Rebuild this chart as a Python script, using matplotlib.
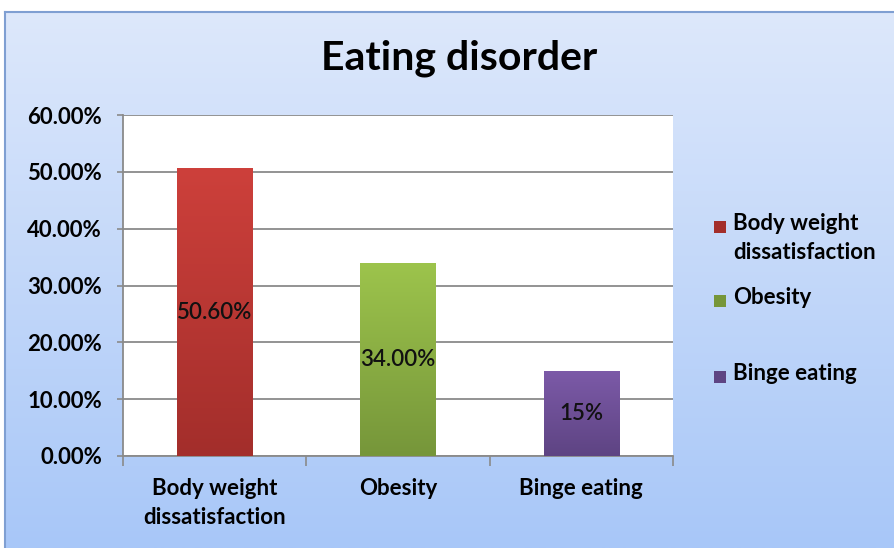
import numpy as np
import matplotlib
matplotlib.use("Agg")
import matplotlib.pyplot as plt
from matplotlib.patches import Rectangle
from matplotlib.colors import LinearSegmentedColormap

plt.rcParams['font.family'] = ['Lato', 'DejaVu Sans']

categories = ["Body weight\ndissatisfaction", "Obesity", "Binge eating"]
legend_labels = ["Body weight\ndissatisfaction", "Obesity", "Binge eating"]
values = [50.6, 34.0, 15.0]
value_labels = ["50.60%", "34.00%", "15%"]
yticks = [0, 10, 20, 30, 40, 50, 60]
ytick_labels = ["0.00%", "10.00%", "20.00%", "30.00%", "40.00%", "50.00%", "60.00%"]

# (top colour, bottom colour) for each bar
bar_colors = [("#cd403b", "#a32e2b"), ("#9dc44c", "#76963a"), ("#7c5aa8", "#5e4483")]

W, H = 894, 548
fig = plt.figure(figsize=(W / 100, H / 100), dpi=100, facecolor="white")

# chart background panel with vertical gradient
bg = fig.add_axes([5 / W, 0, (W - 5) / W, (H - 12) / H])
bg_cmap = LinearSegmentedColormap.from_list("bg", ["#dde8fb", "#a8c7f8"])
bg.imshow(np.linspace(0, 1, 256).reshape(-1, 1), aspect="auto", cmap=bg_cmap,
          extent=[0, 1, 0, 1], origin="upper")
bg.set_xlim(0, 1)
bg.set_ylim(0, 1)
bg.set_xticks([])
bg.set_yticks([])
for side, sp in bg.spines.items():
    sp.set_color("#7f9fd2")
    sp.set_linewidth(1.5)
    if side in ("right", "bottom"):
        sp.set_visible(False)

fig.text(459 / W, 1 - 58 / H, "Eating disorder", ha="center", va="center",
         fontsize=29.5, fontweight="bold", color="black")

ax = fig.add_axes([123 / W, (H - 456) / H, 550 / W, 341 / H])
ax.set_facecolor("white")
x = np.arange(len(categories))
bars = ax.bar(x, values, width=0.41, color=[c[0] for c in bar_colors], zorder=3)

# gradient fill inside each bar
for b, (ctop, cbot) in zip(bars, bar_colors):
    cm = LinearSegmentedColormap.from_list("b", [ctop, cbot])
    x0, y0 = b.get_x(), b.get_y()
    im = ax.imshow(np.linspace(0, 1, 256).reshape(-1, 1), aspect="auto", cmap=cm,
                   extent=[x0, x0 + b.get_width(), y0, y0 + b.get_height()],
                   origin="upper", zorder=3.5)
    im.set_clip_path(b)

ax.set_xlim(-0.5, len(categories) - 0.5)
ax.set_ylim(0, 60)

for xi, v, lab in zip(x, values, value_labels):
    ax.text(xi, v / 2, lab, ha="center", va="center", fontsize=16,
            fontweight="semibold", color="#111111", zorder=5)

ax.set_yticks(yticks)
ax.set_yticklabels(ytick_labels, fontsize=16, fontweight="bold")
ax.yaxis.grid(True, color="#8a8a8a", linewidth=1.3, zorder=0)
ax.set_axisbelow(True)
ax.tick_params(axis="y", length=4, width=1.2, color="#8a8a8a", pad=11)

ax.set_xticks(x)
ax.set_xticklabels(categories, fontsize=16, fontweight="bold", linespacing=1.45)
ax.set_xticks(np.arange(-0.5, len(categories)), minor=True)
ax.tick_params(axis="x", which="major", length=0, pad=16)
ax.tick_params(axis="x", which="minor", length=7, width=1.2, color="#8a8a8a")

for side in ("top", "right"):
    ax.spines[side].set_visible(False)
ax.spines["left"].set_color("#8a8a8a")
ax.spines["left"].set_linewidth(1.3)
ax.spines["bottom"].set_color("#8a8a8a")
ax.spines["bottom"].set_linewidth(1.3)

# legend
leg_y = [227, 301, 377]
for (ctop, cbot), lab, yy in zip(bar_colors, legend_labels, leg_y):
    fig.patches.append(Rectangle((714 / W, 1 - (yy + 6) / H), 12 / W, 12 / H,
                                 transform=fig.transFigure, facecolor=cbot,
                                 edgecolor="none"))
    fig.text(733 / W, 1 - (yy - 14) / H, lab, ha="left", va="top", fontsize=16,
             fontweight="bold", linespacing=1.5)

fig.savefig("out.png", dpi=100, facecolor=fig.get_facecolor())
